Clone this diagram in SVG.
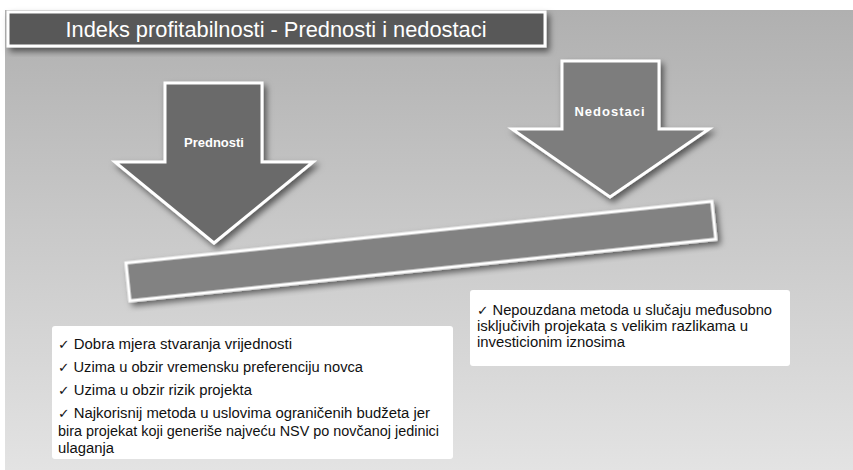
<svg xmlns="http://www.w3.org/2000/svg" width="853" height="470" viewBox="0 0 853 470">
  <defs>
    <linearGradient id="bg" x1="0" y1="0" x2="0" y2="1">
      <stop offset="0" stop-color="#b0b0b0"/>
      <stop offset="0.5" stop-color="#cacaca"/>
      <stop offset="1" stop-color="#e3e3e3"/>
    </linearGradient>
    <filter id="shadow" x="-20%" y="-20%" width="140%" height="150%">
      <feDropShadow dx="3" dy="4" stdDeviation="3" flood-color="#000" flood-opacity="0.55"/>
    </filter>
    <style>
      .shape { stroke: #ffffff; stroke-width: 3; stroke-linejoin: miter; filter: url(#shadow); }
      .lbl { font-family: "Liberation Sans", Arial, sans-serif; fill: #ffffff; text-anchor: middle; }
      .body { font-family: "Liberation Sans", Arial, sans-serif; font-size: 14px; fill: #111111; }
      .chk { font-family: "DejaVu Sans", sans-serif; font-size: 13px; }
      .box { fill: #ffffff; }
    </style>
  </defs>

  <rect x="0" y="0" width="853" height="470" fill="#ffffff"/>
  <rect x="5" y="10" width="848" height="460" fill="url(#bg)"/>

  <g id="title">
    <rect x="8" y="12" width="537" height="34" fill="#595959" class="shape" stroke-width="2.5"/>
    <text class="lbl" x="276" y="37" font-size="22" textLength="421" lengthAdjust="spacingAndGlyphs">Indeks profitabilnosti - Prednosti i nedostaci</text>
  </g>

  <g id="bar">
    <rect x="0" y="0" width="589" height="38" transform="translate(126,263) rotate(-6)" fill="#828282" class="shape"/>
  </g>

  <g id="arrow-prednosti">
    <polygon points="165,83 262,83 262,162 313,162 214,243 115,162 165,162" fill="#6b6b6b" class="shape"/>
    <text class="lbl" x="214" y="147" font-size="13" font-weight="bold">Prednosti</text>
  </g>

  <g id="arrow-nedostaci">
    <polygon points="562,61 659,61 659,129 709,129 610,197 512,129 562,129" fill="#7d7d7d" class="shape"/>
    <text class="lbl" x="610" y="116" font-size="13" font-weight="bold" letter-spacing="1">Nedostaci</text>
  </g>

  <g id="box-prednosti">
    <rect x="52" y="326" width="401" height="133" rx="3" class="box"/>
    <text class="body" x="58" y="349" textLength="234" lengthAdjust="spacingAndGlyphs"><tspan class="chk">✓</tspan> Dobra mjera stvaranja vrijednosti</text>
    <text class="body" x="58" y="372" textLength="305" lengthAdjust="spacingAndGlyphs"><tspan class="chk">✓</tspan> Uzima u obzir vremensku preferenciju novca</text>
    <text class="body" x="58" y="395" textLength="194" lengthAdjust="spacingAndGlyphs"><tspan class="chk">✓</tspan> Uzima u obzir rizik projekta</text>
    <text class="body" x="58" y="418" textLength="372" lengthAdjust="spacingAndGlyphs"><tspan class="chk">✓</tspan> Najkorisnij metoda u uslovima ograničenih budžeta jer</text>
    <text class="body" x="58" y="436" textLength="381" lengthAdjust="spacingAndGlyphs">bira projekat koji generiše najveću NSV po novčanoj jedinici</text>
    <text class="body" x="58" y="453" textLength="56" lengthAdjust="spacingAndGlyphs">ulaganja</text>
  </g>

  <g id="box-nedostaci">
    <rect x="470" y="290" width="320" height="76" rx="3" class="box"/>
    <text class="body" x="477" y="315" textLength="295" lengthAdjust="spacingAndGlyphs"><tspan class="chk">✓</tspan> Nepouzdana metoda u slučaju međusobno</text>
    <text class="body" x="477" y="331" textLength="271" lengthAdjust="spacingAndGlyphs">isključivih projekata s velikim razlikama u</text>
    <text class="body" x="477" y="347" textLength="148" lengthAdjust="spacingAndGlyphs">investicionim iznosima</text>
  </g>

  <g id="connectors"/>
</svg>
